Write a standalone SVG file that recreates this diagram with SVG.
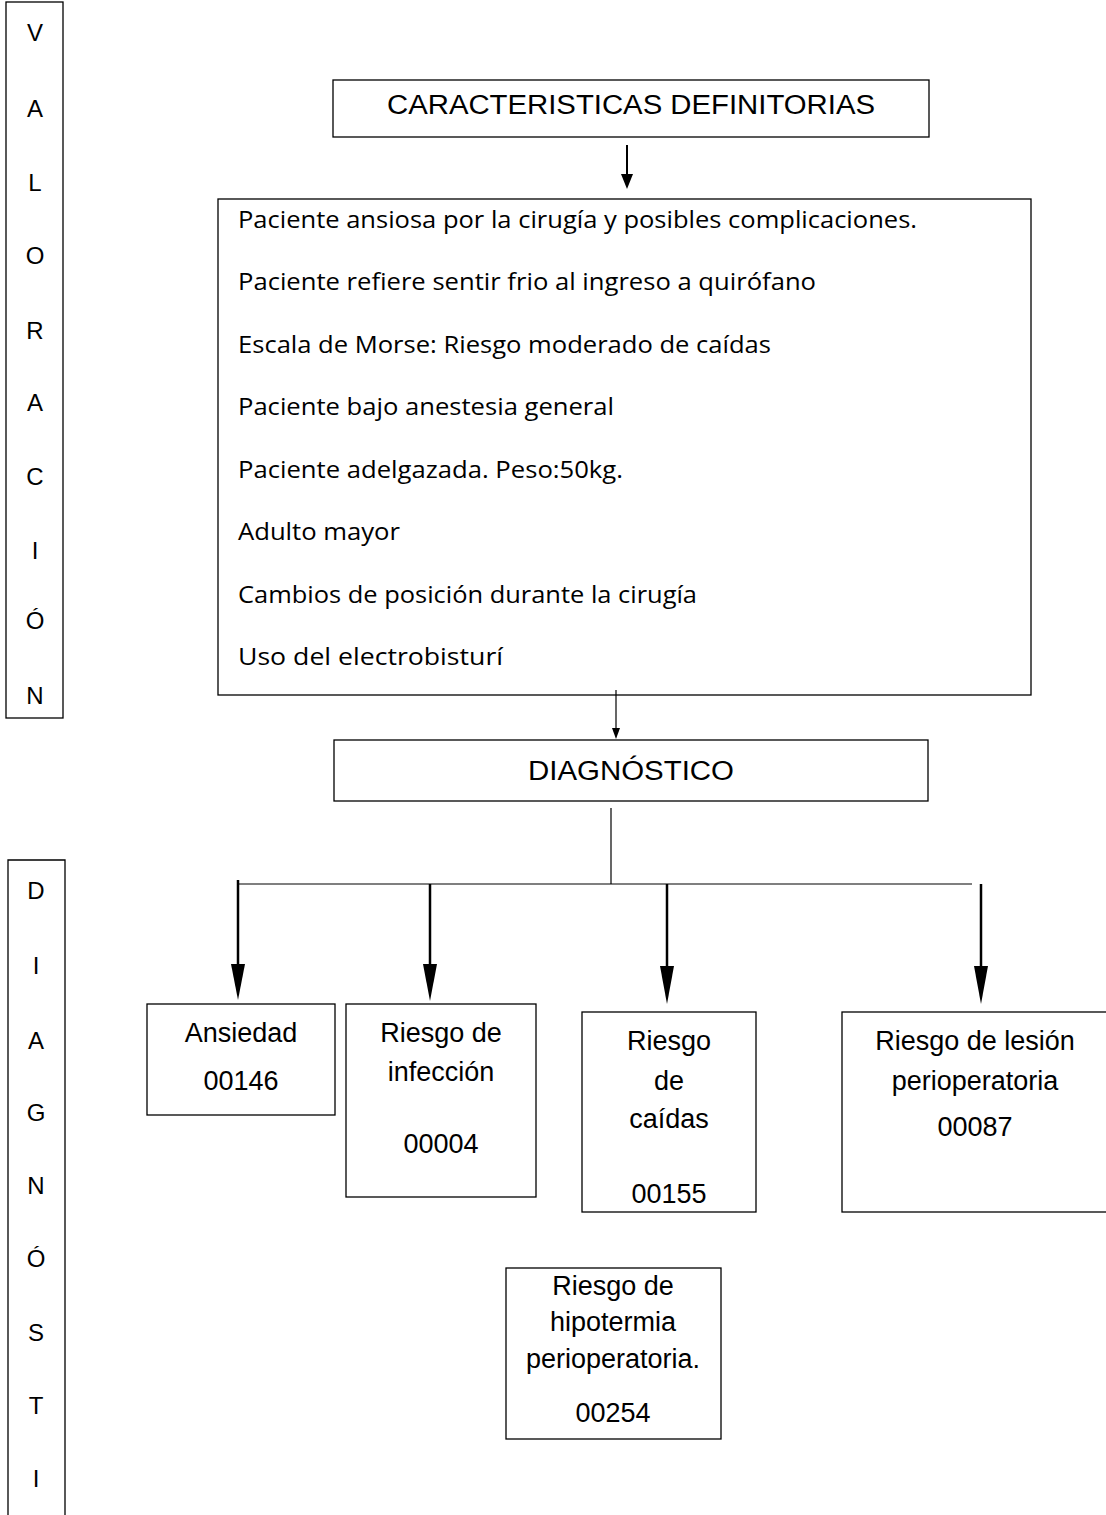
<svg xmlns="http://www.w3.org/2000/svg" width="1106" height="1515" viewBox="0 0 1106 1515">
<style>
.box{fill:#fff;stroke:#000;stroke-width:1.3}
.t{font-family:"Liberation Sans",Arial,sans-serif;fill:#000;text-anchor:middle}
.h{font-size:27px}
.n{font-size:27px}
.v{font-size:24px}
.c{font-family:"Open Sans","Liberation Sans",Arial,sans-serif;font-size:24px;fill:#000}
.ln{stroke:#000;fill:none}
</style>
<rect width="1106" height="1515" fill="#fff"/>
<g id="valoracion">
<rect class="box" x="6" y="2" width="57" height="716"/>
<g class="t v">
<text x="35" y="41">V</text><text x="35" y="117">A</text><text x="35" y="191">L</text><text x="35" y="264">O</text><text x="35" y="339">R</text><text x="35" y="411">A</text><text x="35" y="485">C</text><text x="35" y="559">I</text><text x="35" y="629">Ó</text><text x="35" y="704">N</text>
</g>
</g>
<g id="diagnostico-lateral">
<path class="box" d="M8,1515 V860 H65 V1515"/>
<g class="t v">
<text x="36" y="899">D</text><text x="36" y="974">I</text><text x="36" y="1049">A</text><text x="36" y="1121">G</text><text x="36" y="1194">N</text><text x="36" y="1267">Ó</text><text x="36" y="1341">S</text><text x="36" y="1414">T</text><text x="36" y="1487">I</text>
</g>
</g>
<g id="caracteristicas">
<rect class="box" x="333" y="80" width="596" height="57"/>
<text class="t h" x="631" y="114" textLength="488" lengthAdjust="spacingAndGlyphs">CARACTERISTICAS DEFINITORIAS</text>
</g>
<g id="lista">
<rect class="box" x="218" y="199" width="813" height="496"/>
<text class="c" x="238" y="228" textLength="679" lengthAdjust="spacingAndGlyphs">Paciente ansiosa por la cirugía y posibles complicaciones.</text>
<text class="c" x="238" y="290" textLength="578" lengthAdjust="spacingAndGlyphs">Paciente refiere sentir frio al ingreso a quirófano</text>
<text class="c" x="238" y="353" textLength="533" lengthAdjust="spacingAndGlyphs">Escala de Morse: Riesgo moderado de caídas</text>
<text class="c" x="238" y="415" textLength="376" lengthAdjust="spacingAndGlyphs">Paciente bajo anestesia general</text>
<text class="c" x="238" y="478" textLength="385" lengthAdjust="spacingAndGlyphs">Paciente adelgazada. Peso:50kg.</text>
<text class="c" x="238" y="540" textLength="162" lengthAdjust="spacingAndGlyphs">Adulto mayor</text>
<text class="c" x="238" y="603" textLength="459" lengthAdjust="spacingAndGlyphs">Cambios de posición durante la cirugía</text>
<text class="c" x="238" y="665" textLength="265" lengthAdjust="spacingAndGlyphs">Uso del electrobisturí</text>
</g>
<g id="diagnostico">
<rect class="box" x="334" y="740" width="594" height="61"/>
<text class="t h" x="631" y="780" textLength="206" lengthAdjust="spacingAndGlyphs">DIAGNÓSTICO</text>
</g>
<g id="ansiedad">
<rect class="box" x="147" y="1004" width="188" height="111"/>
<text class="t n" x="241" y="1042">Ansiedad</text>
<text class="t n" x="241" y="1090">00146</text>
</g>
<g id="infeccion">
<rect class="box" x="346" y="1004" width="190" height="193"/>
<text class="t n" x="441" y="1042">Riesgo de</text>
<text class="t n" x="441" y="1081">infección</text>
<text class="t n" x="441" y="1153">00004</text>
</g>
<g id="caidas">
<rect class="box" x="582" y="1012" width="174" height="200"/>
<text class="t n" x="669" y="1050">Riesgo</text>
<text class="t n" x="669" y="1090">de</text>
<text class="t n" x="669" y="1128">caídas</text>
<text class="t n" x="669" y="1203">00155</text>
</g>
<g id="lesion">
<rect class="box" x="842" y="1012" width="270" height="200"/>
<text class="t n" x="975" y="1050">Riesgo de lesión</text>
<text class="t n" x="975" y="1090">perioperatoria</text>
<text class="t n" x="975" y="1136">00087</text>
</g>
<g id="hipotermia">
<rect class="box" x="506" y="1268" width="215" height="171"/>
<text class="t n" x="613" y="1295">Riesgo de</text>
<text class="t n" x="613" y="1331">hipotermia</text>
<text class="t n" x="613" y="1368">perioperatoria.</text>
<text class="t n" x="613" y="1422">00254</text>
</g>
<g id="conectores">
<line class="ln" x1="627" y1="145" x2="627" y2="176" stroke-width="2"/>
<path d="M621,174 L633,174 L627,189 Z"/>
<line class="ln" x1="616" y1="690" x2="616" y2="730" stroke-width="1.2"/>
<path d="M612,728 L620,728 L616,739 Z"/>
<line class="ln" x1="611" y1="808" x2="611" y2="884" stroke-width="1.2"/>
<line class="ln" x1="238" y1="884" x2="972" y2="884" stroke-width="1.2"/>
<line class="ln" x1="238" y1="880" x2="238" y2="966" stroke-width="2.5"/>
<path d="M231,964 L245,964 L238,1000 Z"/>
<line class="ln" x1="430" y1="884" x2="430" y2="966" stroke-width="2.5"/>
<path d="M423,964 L437,964 L430,1001 Z"/>
<line class="ln" x1="667" y1="884" x2="667" y2="968" stroke-width="2.5"/>
<path d="M660,966 L674,966 L667,1004 Z"/>
<line class="ln" x1="981" y1="884" x2="981" y2="968" stroke-width="2.5"/>
<path d="M974,966 L988,966 L981,1004 Z"/>
</g>
</svg>
